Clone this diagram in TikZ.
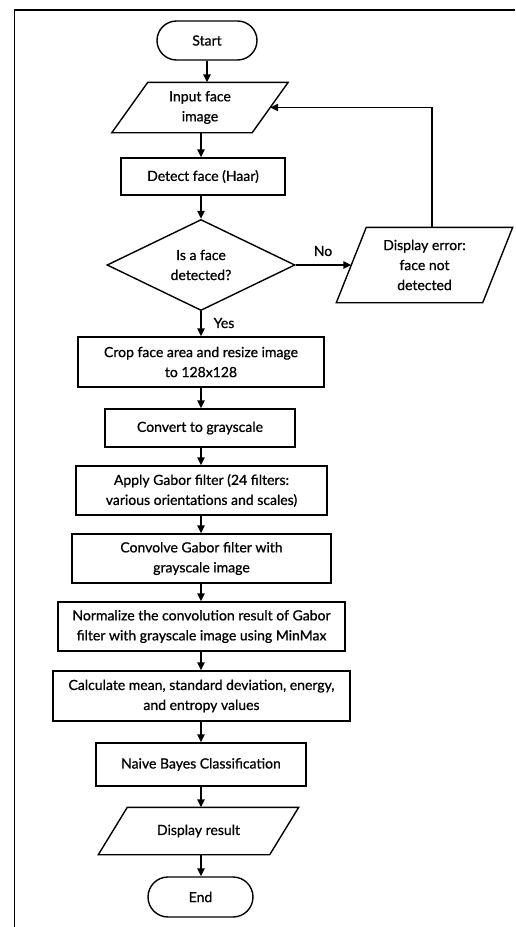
\documentclass[tikz,border=0pt]{standalone}
\usepackage{fontspec}
\setmainfont{Lato}[FakeBold=0.8]
\usetikzlibrary{shapes.geometric,shapes.misc,arrows.meta}

\tikzset{
  box/.style={draw, line width=1.4pt, align=center, inner sep=0pt,
    font=\fontsize{14pt}{20pt}\selectfont},
  term/.style={box, rounded rectangle, minimum width=#1, minimum height=39pt},
  proc/.style={box, rectangle, minimum width=#1},
  io/.style={box, draw=none, rectangle, minimum width=#1},
  outline/.style={line width=1.4pt, line join=miter},
  decision/.style={box, diamond, minimum width=188pt, minimum height=90pt},
  arr/.style={line width=1.4pt, -{Triangle[length=8pt,width=7.5pt]}},
  lbl/.style={font=\fontsize{14pt}{20pt}\selectfont, inner sep=0pt},
}

% slanted data box drawn around a rectangular node: #1 node, #2 slant
\newcommand\slantbox[2]{%
  \draw[outline] ([xshift=-#2/2]#1.south west) -- ([xshift=#2/2]#1.north west)
    -- ([xshift=#2/2]#1.north east) -- ([xshift=-#2/2]#1.south east) -- cycle;}

\begin{document}
\begin{tikzpicture}[x=1pt,y=-1pt]
  \useasboundingbox[fill=white] (0,0) rectangle (515,927);

  % outer frame (left and top edges)
  \draw[line width=1.6pt] (14.5,927) -- (14.5,10) -- (515,10);

  % main column
  \node[term=100pt] (start) at (207,40.5) {Start};
  \node[io=139pt, minimum height=49pt] (in) at (200,107.5) {Input face\\image};
  \slantbox{in}{36pt}
  \node[proc=164pt, minimum height=37pt] (detect) at (203,176.5) {Detect face (Haar)};
  \node[decision] (dec) at (201,265) {Is a face\\detected?};
  \node[io=145pt, minimum height=74pt] (err) at (424.5,265) {Display error:\\face not\\detected};
  \slantbox{err}{30pt}
  \node[proc=246pt, minimum height=50pt] (crop) at (201,362) {Crop face area and resize image\\to 128x128};
  \node[proc=190pt, minimum height=38pt] (gray) at (200,428) {Convert to grayscale};
  \node[proc=251pt, minimum height=49pt] (gabor) at (201.5,490.5) {Apply Gabor filter (24 filters:\\various orientations and scales)};
  \node[proc=259pt, minimum height=49pt] (conv) at (201.5,558.5) {Convolve Gabor filter with\\grayscale image};
  \node[proc=287pt, minimum height=49pt] (norm) at (201.5,626.5) {Normalize the convolution result of Gabor\\filter with grayscale image using MinMax};
  \node[proc=297pt, minimum height=50pt] (calc) at (201.5,696) {Calculate mean, standard deviation, energy,\\and entropy values};
  \node[proc=210pt, minimum height=43pt] (nb) at (201,764.5) {Naive Bayes Classification};
  \node[io=170pt, minimum height=46pt] (res) at (198.5,831) {Display result};
  \slantbox{res}{29pt}
  \node[term=105pt, minimum height=40pt] (end) at (200.5,897) {End};

  % flow
  \draw[arr] (start.south) -- (start.south |- in.north);
  \draw[arr] (crop.south |- in.south) -- (crop.south |- detect.north);
  \draw[arr] (crop.south |- detect.south) -- (dec.north);
  \draw[arr] (dec.south) -- (dec.south |- crop.north);
  \draw[arr] (crop.south) -- (crop.south |- gray.north);
  \draw[arr] (gray.south -| crop.south) -- (gabor.north -| crop.south);
  \draw[arr] (gabor.south -| crop.south) -- (conv.north -| crop.south);
  \draw[arr] (conv.south -| crop.south) -- (norm.north -| crop.south);
  \draw[arr] (norm.south -| crop.south) -- (calc.north -| crop.south);
  \draw[arr] (calc.south -| crop.south) -- (nb.north -| crop.south);
  \draw[arr] (nb.south -| crop.south) -- (res.north -| crop.south);
  \draw[arr] (res.south -| crop.south) -- (end.north -| crop.south);

  % branches
  \draw[arr] (dec.east) -- (err.west);
  \coordinate (up) at ([xshift=7.5pt]err.north);
  \draw[arr] (up) |- (in.east);

  \node[lbl] (no) at (323,251) {No};
  \node[lbl] (yes) at (224,323) {Yes};
\end{tikzpicture}
\end{document}
